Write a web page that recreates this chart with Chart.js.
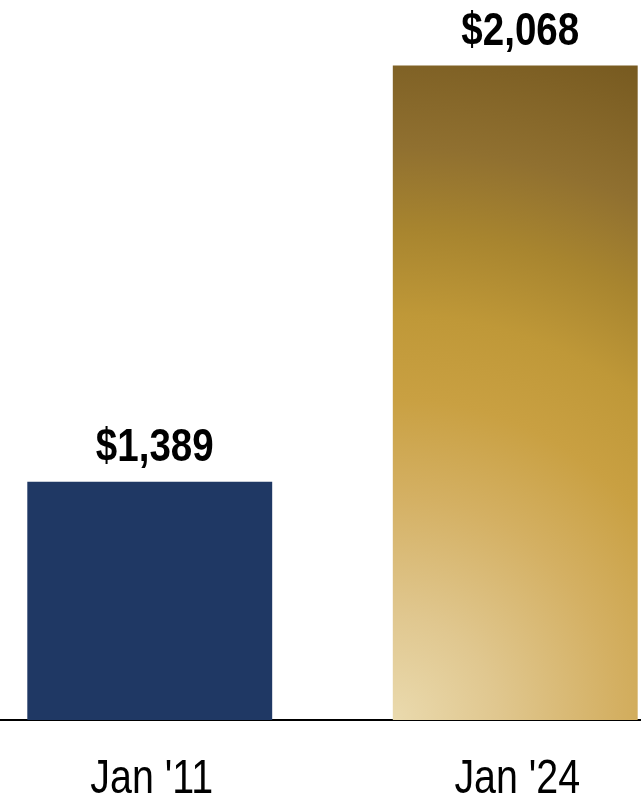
<!DOCTYPE html>
<html>
<head>
<meta charset="utf-8">
<script src="https://cdn.jsdelivr.net/npm/chart.js@4/dist/chart.umd.min.js"></script>
<style>
  html, body { margin: 0; padding: 0; background: #fff; overflow: hidden; }
  #wrap { position: absolute; left: -33px; top: 0; width: 731px; height: 800px; }
</style>
</head>
<body>
<div id="wrap"><canvas id="grafico"></canvas></div>
<script>
// datos del gráfico
const categorias = ["Jan '11", "Jan '24"];
const valores = [1389, 2068];
const etiquetas = ['$1,389', '$2,068'];
const ejeMin = 1000;
const ejeMax = 2175;

// no hay Arial Narrow: se usa Liberation Sans comprimida a lo ancho
const fuente = '"Liberation Sans", Arial, sans-serif';
const estrecho = 0.82;
const azul = '#1f3864';

// degradado dorado, claro abajo a la izquierda y oscuro arriba
function colorBarra(ctx) {
    if (ctx.dataIndex === 0) return azul;
    const c = ctx.chart;
    const x = c.scales.x, y = c.scales.y;
    if (!c.chartArea || !x || !y) return '#c9a040';
    const ancho = (x.width / categorias.length) * 0.67;
    const cx = x.getPixelForValue(ctx.dataIndex);
    const izq = cx - ancho / 2, der = cx + ancho / 2;
    const base = y.getPixelForValue(ejeMin);
    const tope = y.getPixelForValue(valores[ctx.dataIndex]);
    const r = Math.hypot(der - izq, base - tope);
    const g = c.ctx.createRadialGradient(izq, base, 0, izq, base, r);
    g.addColorStop(0, '#eadaae');
    g.addColorStop(0.15, '#e0c78f');
    g.addColorStop(0.32, '#d4b063');
    g.addColorStop(0.46, '#c9a042');
    g.addColorStop(0.58, '#bf9838');
    g.addColorStop(0.7, '#a8852f');
    g.addColorStop(0.82, '#907030');
    g.addColorStop(1, '#775a20');
    return g;
}

function textoEstrecho(ctx, t, x, y) {
    ctx.save();
    ctx.translate(x, y);
    ctx.scale(estrecho, 1);
    ctx.fillText(t, 0, 0);
    ctx.restore();
}

const pluginEtiquetas = {
    id: 'etiquetas',
    afterDatasetsDraw(chart) {
        const ctx = chart.ctx;
        const meta = chart.getDatasetMeta(0);
        const ex = chart.scales.x;
        ctx.save();
        ctx.fillStyle = '#000';
        ctx.textAlign = 'center';
        ctx.textBaseline = 'alphabetic';
        ctx.font = 'bold 47px ' + fuente;
        meta.data.forEach((bar, i) => textoEstrecho(ctx, etiquetas[i], bar.x + 5, bar.y - 21));
        ctx.font = '48px ' + fuente;
        categorias.forEach((cat, i) => textoEstrecho(ctx, cat, ex.getPixelForTick(i) + 2, ex.top + 73));
        ctx.restore();
    }
};

new Chart(document.getElementById('grafico'), {
    type: 'bar',
    data: {
        labels: categorias,
        datasets: [{
            data: valores,
            backgroundColor: colorBarra,
            borderWidth: 0,
            categoryPercentage: 1,
            barPercentage: 0.67
        }]
    },
    options: {
        responsive: true,
        maintainAspectRatio: false,
        animation: false,
        layout: { padding: 0 },
        plugins: { legend: { display: false }, tooltip: { enabled: false } },
        scales: {
            y: { display: false, min: ejeMin, max: ejeMax },
            x: {
                grid: { display: false, drawTicks: false },
                border: { display: true, color: '#000', width: 2 },
                ticks: { display: false },
                afterFit(s) { s.height = 80; }
            }
        }
    },
    plugins: [pluginEtiquetas]
});
</script>
</body>
</html>
